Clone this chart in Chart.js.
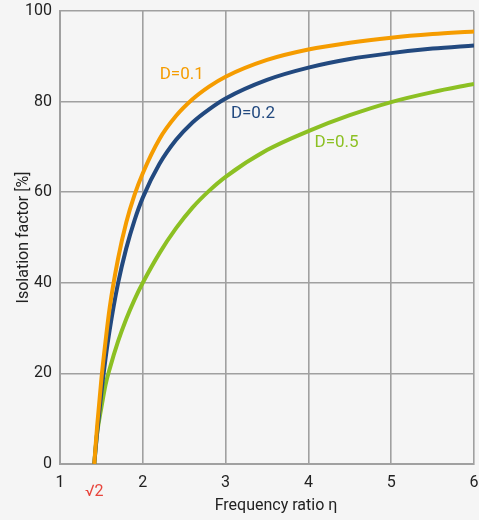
<!DOCTYPE html>
<html>
<head>
<meta charset="utf-8">
<script src="https://cdn.jsdelivr.net/npm/chart.js@4"></script>
<style>
  html, body { margin: 0; padding: 0; background: #f5f5f5; }
  #wrap { width: 479px; height: 520px; position: relative; }
</style>
</head>
<body>
<div id="wrap"><canvas id="c"></canvas></div>
<script>
// Frequency ratio η (x values)
const eta = [1.414, 1.43, 1.45, 1.5, 1.55, 1.6, 1.7, 1.8, 1.9, 2.0, 2.2, 2.4, 2.6, 2.8, 3.0, 3.5, 4.0, 4.5, 5.0, 5.5, 6.0];
// Isolation factor [%]
const isoD01 = [0, 4.0, 8.7, 18.8, 27.1, 34.5, 45.2, 53.3, 59.4, 64.2, 71.7, 76.8, 80.5, 83.3, 85.5, 89.2, 91.5, 93.0, 94.1, 94.9, 95.5];
const isoD02 = [0, 3.3, 7.2, 15.9, 23.3, 29.6, 39.8, 47.6, 53.8, 58.8, 66.2, 71.5, 75.4, 78.3, 80.7, 84.8, 87.5, 89.4, 90.7, 91.7, 92.4];
const isoD05 = [0, 3.5, 7.0, 12.5, 17.5, 21.0, 27.0, 32.0, 36.3, 40.0, 46.5, 52.0, 56.6, 60.3, 63.4, 69.3, 73.5, 77.0, 79.9, 82.1, 83.9];
const seriesLabels = ['D=0.1', 'D=0.2', 'D=0.5'];
const xTicks = [1, 2, 3, 4, 5, 6];
const yTicks = [0, 20, 40, 60, 80, 100];
const specialTickLabel = '√2';
const specialTickValue = 1.414;
const xTitle = 'Frequency ratio η';
const yTitle = 'Isolation factor [%]';
// label anchor positions (data coordinates) for the series labels
const labelEta = [2.47, 3.33, 4.34];
const labelIso = [85.9, 77.4, 70.9];

const colors = ['#f59c00', '#22497f', '#8cc023'];
const FONT = 'Roboto, "Liberation Sans", sans-serif';

function pts(ys) { return eta.map((x, i) => ({ x: x, y: ys[i] })); }

const overlay = {
  id: 'overlay',
  afterDraw(chart) {
    const ctx = chart.ctx;
    const xs = chart.scales.x, ys = chart.scales.y;
    ctx.save();
    ctx.font = '17px ' + FONT;
    ctx.textAlign = 'center';
    ctx.textBaseline = 'middle';
    seriesLabels.forEach((t, i) => {
      ctx.fillStyle = colors[i];
      ctx.fillText(t, xs.getPixelForValue(labelEta[i]), ys.getPixelForValue(labelIso[i]));
    });
    ctx.fillStyle = '#e8453c';
    ctx.font = '16px ' + FONT;
    ctx.fillText(specialTickLabel, xs.getPixelForValue(specialTickValue), 492);
    ctx.fillStyle = '#222';
    ctx.font = '16px ' + FONT;
    ctx.fillText(xTitle, 276, 506);
    ctx.translate(24, (chart.chartArea.top + chart.chartArea.bottom) / 2);
    ctx.rotate(-Math.PI / 2);
    ctx.fillText(yTitle, 0, 0);
    ctx.restore();
  }
};

const gridColor = '#a0a0a0';

new Chart(document.getElementById('c'), {
  type: 'line',
  data: {
    datasets: [isoD01, isoD02, isoD05].map((d, i) => ({
      label: seriesLabels[i],
      data: pts(d),
      borderColor: colors[i],
      borderWidth: 4,
      pointRadius: 0,
      fill: false,
      cubicInterpolationMode: 'monotone'
    }))
  },
  options: {
    responsive: true,
    maintainAspectRatio: false,
    animation: false,
    layout: { padding: { top: 11, right: 5, left: 0, bottom: 0 } },
    plugins: { legend: { display: false }, tooltip: { enabled: false } },
    scales: {
      x: {
        type: 'linear', min: 1, max: 6,
        afterFit(s) { s.height = 56; s.paddingLeft = 0; s.paddingRight = 0; },
        afterBuildTicks(s) { s.ticks = xTicks.map(v => ({ value: v })); },
        ticks: { color: '#222', font: { family: FONT, size: 16 }, padding: 9, maxRotation: 0 },
        grid: { color: gridColor, lineWidth: 1.6, drawTicks: false },
        border: { color: gridColor, width: 2 }
      },
      y: {
        type: 'linear', min: 0, max: 100,
        afterFit(s) { s.width = 60; s.paddingTop = 0; s.paddingBottom = 0; },
        afterBuildTicks(s) { s.ticks = yTicks.map(v => ({ value: v })); },
        ticks: { color: '#222', font: { family: FONT, size: 16 }, padding: 8 },
        grid: { color: gridColor, lineWidth: 1.6, drawTicks: false },
        border: { color: gridColor, width: 2 }
      }
    }
  },
  plugins: [overlay]
});
</script>
</body>
</html>
